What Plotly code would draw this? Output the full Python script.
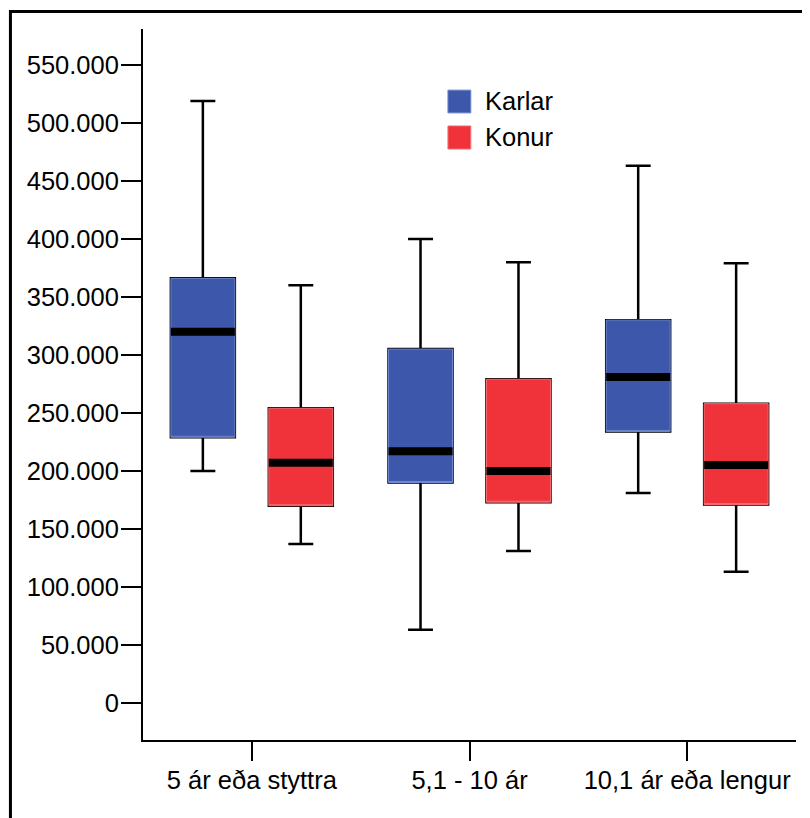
import plotly.graph_objects as go

categories = ["5 ár eða styttra", "5,1 - 10 ár", "10,1 ár eða lengur"]

# Karlar (men)
karlar_low = [200000, 63000, 181000]
karlar_q1 = [229000, 190000, 234000]
karlar_med = [320000, 217000, 281000]
karlar_q3 = [366000, 305000, 330000]
karlar_high = [519000, 400000, 463000]

# Konur (women)
konur_low = [137000, 131000, 113000]
konur_q1 = [170000, 173000, 171000]
konur_med = [207000, 200000, 205000]
konur_q3 = [254000, 279000, 258000]
konur_high = [360000, 380000, 379000]

series = [
    ("Karlar", "K", "rgb(61,87,170)", "rgb(110,135,205)",
     karlar_low, karlar_q1, karlar_med, karlar_q3, karlar_high),
    ("Konur", "F", "rgb(240,50,58)", "rgb(245,110,115)",
     konur_low, konur_q1, konur_med, konur_q3, konur_high),
]

fig = go.Figure()

for name, grp, fill, edge, low, q1, med, q3, high in series:
    # whiskers (black) - box outline gets covered by the filled box below
    fig.add_trace(go.Box(
        x=categories, q1=q1, median=med, q3=q3,
        lowerfence=low, upperfence=high,
        offsetgroup=grp, alignmentgroup="a",
        line=dict(color="black", width=2.5),
        fillcolor="black", whiskerwidth=0.39,
        showlegend=False, hoverinfo="skip", name=name
    ))
    # coloured box, no whiskers
    fig.add_trace(go.Box(
        x=categories, q1=q1, median=q1, q3=q3,
        lowerfence=q1, upperfence=q3,
        offsetgroup=grp, alignmentgroup="a",
        line=dict(color=edge, width=1),
        fillcolor=fill, whiskerwidth=0,
        showlegend=False, hoverinfo="skip", name=name
    ))
    # thick black median
    fig.add_trace(go.Box(
        x=categories, q1=med, median=med, q3=med,
        lowerfence=med, upperfence=med,
        offsetgroup=grp, alignmentgroup="a",
        line=dict(color="black", width=8),
        fillcolor="black", whiskerwidth=0,
        showlegend=False, hoverinfo="skip", name=name
    ))

font = dict(family="Liberation Sans, Arial, sans-serif", size=25.5, color="black")

shapes = [
    # outer frame
    dict(type="rect", xref="paper", yref="paper",
         x0=-0.203, x1=1.3, y0=-0.4, y1=1.0246,
         line=dict(color="black", width=3), fillcolor="rgba(0,0,0,0)"),
    # legend swatches
    dict(type="rect", xref="paper", yref="paper",
         x0=0.467, x1=0.502, y0=0.882, y1=0.914,
         line=dict(color=series[0][3], width=1), fillcolor=series[0][2]),
    dict(type="rect", xref="paper", yref="paper",
         x0=0.467, x1=0.502, y0=0.8312, y1=0.8636,
         line=dict(color=series[1][3], width=1), fillcolor=series[1][2]),
]

annotations = [
    dict(text="Karlar", xref="paper", yref="paper", x=0.5207, y=0.8987,
         xanchor="left", yanchor="middle", showarrow=False, font=font),
    dict(text="Konur", xref="paper", yref="paper", x=0.5207, y=0.848,
         xanchor="left", yanchor="middle", showarrow=False, font=font),
]

# page body adds an 8px offset, so the figure is 8px smaller and margins shifted
fig.update_layout(
    width=802, height=810,
    margin=dict(l=135, r=14, t=21, b=78),
    paper_bgcolor="white", plot_bgcolor="white",
    boxmode="group", boxgap=0.1, boxgroupgap=0.347,
    separators=",.",
    font=font,
    shapes=shapes,
    annotations=annotations,
    showlegend=False,
)

fig.update_yaxes(
    range=[-32000, 581000], dtick=50000, tick0=0, tickformat=",d",
    showgrid=False, zeroline=False,
    showline=True, linecolor="black", linewidth=2,
    ticks="outside", ticklen=20, tickwidth=2, tickcolor="black",
    ticklabelstandoff=-3,
    tickfont=font,
)
fig.update_xaxes(
    range=[-0.5, 2.5],
    showgrid=False, zeroline=False,
    showline=True, linecolor="black", linewidth=2,
    ticks="outside", ticklen=19, tickwidth=2, tickcolor="black",
    ticklabelstandoff=-3,
    tickfont=font,
)

fig.write_html("out.html")
